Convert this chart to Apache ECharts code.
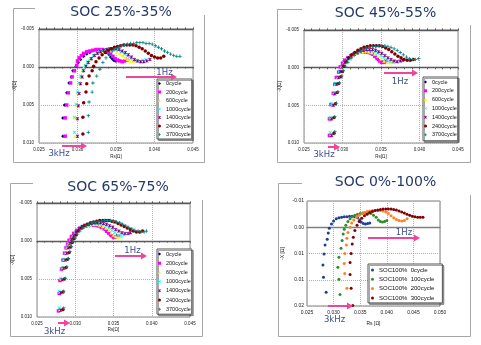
<!DOCTYPE html>
<html><head><meta charset="utf-8">
<script src="https://cdn.jsdelivr.net/npm/echarts@6/dist/echarts.min.js"></script>
<style>html,body{margin:0;padding:0;background:#fff}#c{width:481px;height:345px}</style>
</head><body><div id="c"></div>
<script>
// ---------- labels ----------
const titles = ["SOC 25%-35%", "SOC 45%-55%", "SOC 65%-75%", "SOC 0%-100%"];
const names7 = ["0cycle", "200cycle", "600cycle", "1000cycle", "1400cycle", "2400cycle", "3700cycle"];
const names4 = ["SOC100%  0cycle", "SOC100%  100cycle", "SOC100%  200cycle", "SOC100%  300cycle"];
const xTicksA = ["0.025", "0.030", "0.035", "0.040", "0.045"];
const yTicksA = ["-0.005", "0.000", "0.005", "0.010"];
const xTicksD = ["0.025", "0.030", "0.035", "0.040", "0.045", "0.050"];
const yTicksD = ["-0.01", "0.00", "0.01", "0.01", "0.02"];
const freqLabels = ["1Hz", "3kHz"];

// ---------- SOC 25%-35% ----------
const p1_c0 = [[0.0281,0.0091],[0.0281,0.0067],[0.0283,0.0050],[0.0286,0.0034],[0.0289,0.0021],[0.0292,0.0013],[0.0294,0.0005],[0.0298,-0.0001],[0.0301,-0.0006],[0.0304,-0.0010],[0.0308,-0.0014],[0.0312,-0.0017],[0.0316,-0.0019],[0.0320,-0.0021],[0.0324,-0.0022],[0.0328,-0.0022],[0.0332,-0.0022],[0.0335,-0.0021],[0.0338,-0.0019],[0.0341,-0.0016],[0.0343,-0.0013],[0.0345,-0.0011],[0.0347,-0.0009],[0.0349,-0.0008],[0.0351,-0.0008],[0.0353,-0.0009]];
const p1_c200 = [[0.0284,0.0091],[0.0284,0.0067],[0.0286,0.0050],[0.0288,0.0034],[0.0291,0.0021],[0.0293,0.0013],[0.0296,0.0005],[0.0299,-0.0002],[0.0300,-0.0008],[0.0302,-0.0012],[0.0305,-0.0015],[0.0308,-0.0018],[0.0312,-0.0020],[0.0316,-0.0021],[0.0320,-0.0022],[0.0324,-0.0023],[0.0328,-0.0023],[0.0332,-0.0023],[0.0336,-0.0022],[0.0340,-0.0020],[0.0343,-0.0017],[0.0346,-0.0014],[0.0349,-0.0011],[0.0352,-0.0009],[0.0355,-0.0008],[0.0358,-0.0007],[0.0361,-0.0008],[0.0364,-0.0009]];
const p1_c600 = [[0.0297,0.0091],[0.0297,0.0067],[0.0299,0.0050],[0.0300,0.0034],[0.0302,0.0021],[0.0304,0.0013],[0.0306,0.0005],[0.0309,-0.0001],[0.0312,-0.0006],[0.0315,-0.0010],[0.0319,-0.0014],[0.0323,-0.0017],[0.0327,-0.0019],[0.0331,-0.0021],[0.0335,-0.0022],[0.0339,-0.0023],[0.0343,-0.0023],[0.0347,-0.0022],[0.0351,-0.0020],[0.0355,-0.0018],[0.0359,-0.0015],[0.0362,-0.0012],[0.0365,-0.0010],[0.0368,-0.0008],[0.0372,-0.0008],[0.0375,-0.0009],[0.0378,-0.0010]];
const p1_c1000 = [[0.0296,0.0086],[0.0296,0.0066],[0.0298,0.0049],[0.0300,0.0033],[0.0302,0.0021],[0.0304,0.0012],[0.0307,0.0004],[0.0310,-0.0002],[0.0313,-0.0007],[0.0317,-0.0011],[0.0321,-0.0015],[0.0325,-0.0018],[0.0329,-0.0020],[0.0333,-0.0022],[0.0337,-0.0023],[0.0341,-0.0024],[0.0345,-0.0024],[0.0349,-0.0023],[0.0353,-0.0022],[0.0357,-0.0020],[0.0361,-0.0017],[0.0365,-0.0014],[0.0369,-0.0011],[0.0373,-0.0009],[0.0377,-0.0008],[0.0381,-0.0008],[0.0385,-0.0009],[0.0389,-0.0010]];
const p1_c1400 = [[0.0300,0.0091],[0.0300,0.0068],[0.0301,0.0051],[0.0302,0.0035],[0.0304,0.0022],[0.0306,0.0013],[0.0308,0.0005],[0.0311,-0.0001],[0.0314,-0.0006],[0.0318,-0.0011],[0.0322,-0.0015],[0.0326,-0.0018],[0.0330,-0.0020],[0.0334,-0.0022],[0.0338,-0.0023],[0.0342,-0.0024],[0.0346,-0.0024],[0.0350,-0.0024],[0.0354,-0.0023],[0.0358,-0.0021],[0.0362,-0.0019],[0.0366,-0.0016],[0.0370,-0.0013],[0.0374,-0.0010],[0.0378,-0.0008],[0.0382,-0.0007],[0.0386,-0.0007],[0.0390,-0.0008],[0.0394,-0.0010]];
const p1_c2400 = [[0.0307,0.0088],[0.0307,0.0066],[0.0308,0.0047],[0.0311,0.0033],[0.0312,0.0022],[0.0315,0.0012],[0.0319,0.0005],[0.0321,-0.0001],[0.0324,-0.0007],[0.0328,-0.0012],[0.0332,-0.0016],[0.0336,-0.0019],[0.0340,-0.0022],[0.0344,-0.0024],[0.0348,-0.0026],[0.0352,-0.0027],[0.0356,-0.0028],[0.0360,-0.0029],[0.0364,-0.0029],[0.0368,-0.0029],[0.0372,-0.0029],[0.0376,-0.0028],[0.0380,-0.0026],[0.0384,-0.0024],[0.0388,-0.0021],[0.0392,-0.0018],[0.0396,-0.0015],[0.0400,-0.0013],[0.0404,-0.0012],[0.0408,-0.0012],[0.0412,-0.0014]];
const p1_c3700 = [[0.0314,0.0086],[0.0314,0.0064],[0.0315,0.0046],[0.0319,0.0033],[0.0320,0.0021],[0.0325,0.0012],[0.0329,0.0003],[0.0333,-0.0006],[0.0337,-0.0012],[0.0341,-0.0017],[0.0345,-0.0021],[0.0349,-0.0024],[0.0353,-0.0026],[0.0357,-0.0028],[0.0361,-0.0029],[0.0365,-0.0030],[0.0369,-0.0031],[0.0373,-0.0031],[0.0377,-0.0032],[0.0381,-0.0032],[0.0385,-0.0032],[0.0389,-0.0031],[0.0393,-0.0031],[0.0397,-0.0030],[0.0401,-0.0028],[0.0405,-0.0026],[0.0409,-0.0024],[0.0413,-0.0021],[0.0417,-0.0019],[0.0421,-0.0017],[0.0425,-0.0015],[0.0429,-0.0014],[0.0433,-0.0014]];

// ---------- SOC 45%-55% ----------
const p2_c0 = [[0.0284,0.0089],[0.0284,0.0067],[0.0286,0.0049],[0.0289,0.0034],[0.0290,0.0022],[0.0293,0.0013],[0.0295,0.0006],[0.0298,-0.0001],[0.0301,-0.0006],[0.0304,-0.0010],[0.0308,-0.0013],[0.0312,-0.0016],[0.0316,-0.0018],[0.0320,-0.0019],[0.0324,-0.0020],[0.0328,-0.0021],[0.0332,-0.0020],[0.0336,-0.0019],[0.0340,-0.0017],[0.0343,-0.0014],[0.0346,-0.0011],[0.0349,-0.0009],[0.0352,-0.0008],[0.0355,-0.0009]];
const p2_c200 = [[0.0283,0.0090],[0.0283,0.0068],[0.0285,0.0049],[0.0288,0.0034],[0.0290,0.0022],[0.0292,0.0013],[0.0295,0.0006],[0.0297,-0.0001],[0.0300,-0.0006],[0.0303,-0.0010],[0.0307,-0.0013],[0.0311,-0.0016],[0.0315,-0.0018],[0.0319,-0.0020],[0.0323,-0.0021],[0.0327,-0.0021],[0.0331,-0.0021],[0.0335,-0.0020],[0.0339,-0.0018],[0.0342,-0.0015],[0.0345,-0.0012],[0.0348,-0.0009],[0.0351,-0.0007],[0.0354,-0.0007],[0.0357,-0.0008]];
const p2_c600 = [[0.0285,0.0088],[0.0285,0.0066],[0.0287,0.0048],[0.0289,0.0033],[0.0291,0.0022],[0.0294,0.0013],[0.0296,0.0005],[0.0299,-0.0002],[0.0302,-0.0007],[0.0306,-0.0011],[0.0310,-0.0014],[0.0314,-0.0017],[0.0318,-0.0019],[0.0322,-0.0020],[0.0326,-0.0021],[0.0330,-0.0022],[0.0334,-0.0021],[0.0338,-0.0020],[0.0342,-0.0018],[0.0346,-0.0015],[0.0350,-0.0012],[0.0354,-0.0009],[0.0358,-0.0007],[0.0362,-0.0007],[0.0365,-0.0008]];
const p2_c1000 = [[0.0284,0.0086],[0.0284,0.0066],[0.0286,0.0048],[0.0289,0.0033],[0.0291,0.0021],[0.0294,0.0012],[0.0296,0.0005],[0.0299,-0.0002],[0.0302,-0.0007],[0.0306,-0.0011],[0.0310,-0.0015],[0.0314,-0.0018],[0.0318,-0.0020],[0.0322,-0.0021],[0.0326,-0.0022],[0.0330,-0.0023],[0.0334,-0.0023],[0.0338,-0.0022],[0.0342,-0.0021],[0.0346,-0.0019],[0.0350,-0.0016],[0.0354,-0.0013],[0.0358,-0.0010],[0.0362,-0.0008],[0.0366,-0.0007],[0.0370,-0.0008]];
const p2_c1400 = [[0.0286,0.0090],[0.0286,0.0068],[0.0288,0.0050],[0.0290,0.0035],[0.0292,0.0022],[0.0295,0.0013],[0.0297,0.0005],[0.0300,-0.0002],[0.0303,-0.0007],[0.0307,-0.0012],[0.0311,-0.0015],[0.0315,-0.0018],[0.0319,-0.0020],[0.0323,-0.0022],[0.0327,-0.0023],[0.0331,-0.0024],[0.0335,-0.0024],[0.0339,-0.0024],[0.0343,-0.0023],[0.0347,-0.0021],[0.0351,-0.0019],[0.0355,-0.0016],[0.0359,-0.0013],[0.0363,-0.0011],[0.0367,-0.0009],[0.0371,-0.0008],[0.0375,-0.0009],[0.0378,-0.0010]];
const p2_c2400 = [[0.0289,0.0087],[0.0289,0.0066],[0.0291,0.0048],[0.0293,0.0033],[0.0295,0.0021],[0.0298,0.0012],[0.0300,0.0005],[0.0302,-0.0002],[0.0305,-0.0008],[0.0308,-0.0013],[0.0312,-0.0017],[0.0316,-0.0020],[0.0320,-0.0023],[0.0324,-0.0025],[0.0328,-0.0027],[0.0332,-0.0028],[0.0336,-0.0029],[0.0340,-0.0029],[0.0344,-0.0029],[0.0348,-0.0029],[0.0352,-0.0028],[0.0356,-0.0026],[0.0360,-0.0024],[0.0364,-0.0021],[0.0368,-0.0018],[0.0372,-0.0015],[0.0376,-0.0013],[0.0380,-0.0011],[0.0384,-0.0010],[0.0388,-0.0010],[0.0392,-0.0011]];
const p2_c3700 = [[0.0290,0.0085],[0.0290,0.0065],[0.0292,0.0047],[0.0294,0.0032],[0.0296,0.0020],[0.0299,0.0011],[0.0301,0.0004],[0.0304,-0.0002],[0.0307,-0.0007],[0.0311,-0.0012],[0.0315,-0.0016],[0.0319,-0.0019],[0.0323,-0.0022],[0.0327,-0.0024],[0.0331,-0.0026],[0.0335,-0.0027],[0.0339,-0.0028],[0.0343,-0.0028],[0.0347,-0.0029],[0.0351,-0.0029],[0.0355,-0.0029],[0.0359,-0.0028],[0.0363,-0.0027],[0.0367,-0.0025],[0.0371,-0.0023],[0.0375,-0.0020],[0.0379,-0.0017],[0.0383,-0.0014],[0.0387,-0.0012],[0.0391,-0.0011],[0.0395,-0.0011],[0.0399,-0.0012]];

// ---------- SOC 65%-75% ----------
const p3_c0 = [[0.0279,0.0091],[0.0280,0.0068],[0.0281,0.0051],[0.0283,0.0036],[0.0285,0.0025],[0.0287,0.0016],[0.0289,0.0009],[0.0291,0.0004],[0.0293,-0.0001],[0.0296,-0.0006],[0.0299,-0.0010],[0.0303,-0.0013],[0.0307,-0.0016],[0.0311,-0.0018],[0.0315,-0.0019],[0.0319,-0.0020],[0.0323,-0.0021],[0.0327,-0.0021],[0.0331,-0.0020],[0.0335,-0.0018],[0.0339,-0.0015],[0.0342,-0.0012],[0.0345,-0.0009],[0.0348,-0.0007],[0.0351,-0.0006],[0.0354,-0.0007]];
const p3_c200 = [[0.0278,0.0092],[0.0279,0.0069],[0.0280,0.0052],[0.0282,0.0037],[0.0284,0.0025],[0.0286,0.0016],[0.0288,0.0009],[0.0290,0.0004],[0.0292,-0.0001],[0.0295,-0.0006],[0.0298,-0.0010],[0.0302,-0.0014],[0.0306,-0.0017],[0.0310,-0.0019],[0.0314,-0.0020],[0.0318,-0.0021],[0.0322,-0.0021],[0.0326,-0.0021],[0.0330,-0.0020],[0.0334,-0.0018],[0.0338,-0.0016],[0.0341,-0.0013],[0.0344,-0.0010],[0.0347,-0.0007],[0.0350,-0.0005],[0.0353,-0.0005],[0.0356,-0.0006]];
const p3_c600 = [[0.0280,0.0090],[0.0280,0.0067],[0.0282,0.0050],[0.0284,0.0035],[0.0286,0.0024],[0.0288,0.0015],[0.0290,0.0008],[0.0292,0.0003],[0.0294,-0.0002],[0.0297,-0.0007],[0.0300,-0.0011],[0.0304,-0.0014],[0.0308,-0.0017],[0.0312,-0.0019],[0.0316,-0.0020],[0.0320,-0.0021],[0.0324,-0.0022],[0.0328,-0.0022],[0.0332,-0.0021],[0.0336,-0.0019],[0.0340,-0.0017],[0.0344,-0.0014],[0.0347,-0.0011],[0.0350,-0.0008],[0.0353,-0.0006],[0.0356,-0.0005],[0.0359,-0.0006]];
const p3_c1000 = [[0.0279,0.0088],[0.0279,0.0066],[0.0281,0.0049],[0.0283,0.0035],[0.0285,0.0024],[0.0287,0.0015],[0.0289,0.0008],[0.0291,0.0003],[0.0294,-0.0002],[0.0297,-0.0007],[0.0300,-0.0011],[0.0304,-0.0015],[0.0308,-0.0018],[0.0312,-0.0020],[0.0316,-0.0021],[0.0320,-0.0022],[0.0324,-0.0023],[0.0328,-0.0023],[0.0332,-0.0023],[0.0336,-0.0022],[0.0340,-0.0020],[0.0344,-0.0017],[0.0348,-0.0014],[0.0352,-0.0011],[0.0356,-0.0008],[0.0360,-0.0007],[0.0364,-0.0008]];
const p3_c1400 = [[0.0281,0.0091],[0.0281,0.0068],[0.0283,0.0051],[0.0285,0.0036],[0.0287,0.0025],[0.0289,0.0016],[0.0291,0.0009],[0.0293,0.0003],[0.0295,-0.0002],[0.0298,-0.0007],[0.0301,-0.0012],[0.0305,-0.0016],[0.0309,-0.0019],[0.0313,-0.0021],[0.0317,-0.0022],[0.0321,-0.0023],[0.0325,-0.0024],[0.0329,-0.0024],[0.0333,-0.0024],[0.0337,-0.0023],[0.0341,-0.0022],[0.0345,-0.0020],[0.0349,-0.0018],[0.0353,-0.0015],[0.0357,-0.0013],[0.0361,-0.0011],[0.0365,-0.0010],[0.0369,-0.0010],[0.0372,-0.0011]];
const p3_c2400 = [[0.0284,0.0090],[0.0284,0.0067],[0.0286,0.0050],[0.0288,0.0035],[0.0290,0.0024],[0.0292,0.0015],[0.0294,0.0008],[0.0296,0.0002],[0.0298,-0.0003],[0.0301,-0.0008],[0.0304,-0.0013],[0.0308,-0.0017],[0.0312,-0.0020],[0.0316,-0.0022],[0.0320,-0.0024],[0.0324,-0.0025],[0.0328,-0.0026],[0.0332,-0.0027],[0.0336,-0.0027],[0.0340,-0.0027],[0.0344,-0.0027],[0.0348,-0.0026],[0.0352,-0.0025],[0.0356,-0.0023],[0.0360,-0.0021],[0.0364,-0.0019],[0.0368,-0.0017],[0.0372,-0.0015],[0.0376,-0.0013],[0.0380,-0.0012],[0.0384,-0.0012],[0.0388,-0.0013]];
const p3_c3700 = [[0.0285,0.0088],[0.0285,0.0066],[0.0287,0.0049],[0.0289,0.0034],[0.0291,0.0023],[0.0293,0.0014],[0.0295,0.0007],[0.0297,0.0001],[0.0300,-0.0004],[0.0303,-0.0009],[0.0306,-0.0013],[0.0310,-0.0017],[0.0314,-0.0020],[0.0318,-0.0022],[0.0322,-0.0024],[0.0326,-0.0025],[0.0330,-0.0026],[0.0334,-0.0026],[0.0338,-0.0027],[0.0342,-0.0027],[0.0346,-0.0027],[0.0350,-0.0026],[0.0354,-0.0025],[0.0358,-0.0024],[0.0362,-0.0022],[0.0366,-0.0020],[0.0370,-0.0018],[0.0374,-0.0016],[0.0378,-0.0014],[0.0382,-0.0013],[0.0386,-0.0012],[0.0390,-0.0012],[0.0393,-0.0013]];

// ---------- SOC 0%-100% ----------
const p4_c0 = [[0.0286,0.0124],[0.0281,0.0095],[0.0280,0.0072],[0.0282,0.0051],[0.0284,0.0034],[0.0288,0.0023],[0.0290,0.0011],[0.0292,0.0002],[0.0296,-0.0006],[0.0300,-0.0012],[0.0305,-0.0016],[0.0310,-0.0018],[0.0315,-0.0019],[0.0320,-0.0020],[0.0325,-0.0020],[0.0330,-0.0021],[0.0335,-0.0021],[0.0340,-0.0020],[0.0345,-0.0018],[0.0349,-0.0014],[0.0352,-0.0010],[0.0356,-0.0007],[0.0360,-0.0006],[0.0364,-0.0007],[0.0368,-0.0008]];
const p4_c100 = [[0.0312,0.0128],[0.0310,0.0099],[0.0308,0.0076],[0.0310,0.0057],[0.0314,0.0040],[0.0316,0.0025],[0.0318,0.0013],[0.0320,0.0004],[0.0323,-0.0004],[0.0327,-0.0011],[0.0331,-0.0016],[0.0335,-0.0020],[0.0340,-0.0023],[0.0345,-0.0025],[0.0350,-0.0026],[0.0355,-0.0027],[0.0360,-0.0027],[0.0365,-0.0027],[0.0370,-0.0026],[0.0375,-0.0023],[0.0380,-0.0019],[0.0384,-0.0014],[0.0388,-0.0011],[0.0392,-0.0010],[0.0396,-0.0011],[0.0400,-0.0013]];
const p4_c200 = [[0.0326,0.0150],[0.0325,0.0116],[0.0321,0.0088],[0.0320,0.0069],[0.0321,0.0050],[0.0324,0.0034],[0.0325,0.0021],[0.0327,0.0010],[0.0331,0.0000],[0.0334,-0.0008],[0.0338,-0.0014],[0.0343,-0.0019],[0.0348,-0.0023],[0.0353,-0.0026],[0.0358,-0.0028],[0.0363,-0.0030],[0.0368,-0.0031],[0.0373,-0.0032],[0.0378,-0.0032],[0.0383,-0.0032],[0.0388,-0.0032],[0.0393,-0.0031],[0.0398,-0.0029],[0.0403,-0.0026],[0.0408,-0.0022],[0.0413,-0.0018],[0.0418,-0.0015],[0.0423,-0.0013],[0.0428,-0.0012],[0.0433,-0.0013],[0.0438,-0.0016]];
const p4_c300 = [[0.0336,0.0149],[0.0333,0.0116],[0.0331,0.0090],[0.0331,0.0067],[0.0333,0.0050],[0.0335,0.0032],[0.0337,0.0019],[0.0340,0.0006],[0.0344,-0.0004],[0.0348,-0.0011],[0.0353,-0.0017],[0.0358,-0.0022],[0.0363,-0.0025],[0.0368,-0.0028],[0.0373,-0.0030],[0.0378,-0.0032],[0.0383,-0.0033],[0.0388,-0.0034],[0.0393,-0.0035],[0.0398,-0.0035],[0.0403,-0.0035],[0.0408,-0.0035],[0.0413,-0.0034],[0.0418,-0.0033],[0.0423,-0.0031],[0.0428,-0.0029],[0.0433,-0.0027],[0.0438,-0.0025],[0.0443,-0.0023],[0.0448,-0.0021],[0.0453,-0.0020],[0.0458,-0.0019],[0.0463,-0.0019],[0.0468,-0.0019]];

// ---------- styling ----------
const X_SYM = 'path://M0,1.5L1.5,0L5,3.5L8.5,0L10,1.5L6.5,5L10,8.5L8.5,10L5,6.5L1.5,10L0,8.5L3.5,5Z';
const STAR_SYM = 'path://M0,1.5L1.5,0L5,3.5L8.5,0L10,1.5L6.5,5L10,8.5L8.5,10L5,6.5L1.5,10L0,8.5L3.5,5Z M4.2,0L5.8,0L5.8,10L4.2,10Z';
const PLUS_SYM = 'path://M3.8,0L6.2,0L6.2,3.8L10,3.8L10,6.2L6.2,6.2L6.2,10L3.8,10L3.8,6.2L0,6.2L0,3.8L3.8,3.8Z';
const SYM7 = ['diamond', 'rect', 'triangle', X_SYM, STAR_SYM, 'circle', PLUS_SYM];
const COL7 = ['#000080', '#ff00ff', '#ffff00', '#00ffff', '#800080', '#800000', '#008080'];
const SYM4 = ['circle', 'circle', 'circle', 'circle'];
const COL4 = ['#1f3d99', '#2e8b2e', '#ff7f27', '#800000'];
const PINK = '#f0459a';
const HZ_BLUE = '#3d4f8c';
const TITLE_BLUE = '#24396b';

const panels = [
  { g:[39,29,154,114], x:[0.025,0.045], y:[-0.005,0.010], xt:xTicksA, yt:yTicksA, names:names7, data:[p1_c0,p1_c200,p1_c600,p1_c1000,p1_c1400,p1_c2400,p1_c3700], syms:SYM7, cols:COL7, ss:3.5,
    fs:4.5, xlm:4.5, ylm:5, xName:'Rs[Ω]', yName:'-X[Ω]', xng:11, yng:21, zero:'#595959', ticks:true, border:'#8c8c8c',
    lg:[157,79], lgGap:2.5, lgPad:[1.5,1,1.5,1], lfs:5.5, lh:6,
    frame:[[35,8.5],[13.5,8.5],[13.5,162.5],[204.5,162.5],[204.5,15]], title:[121,12],
    a1:[126,177,77], t1:[164.5,72.5], a3:[62,87,146], t3:[59,153.5] },
  { g:[304,30,154,113], x:[0.025,0.045], y:[-0.005,0.010], xt:xTicksA, yt:yTicksA, names:names7, data:[p2_c0,p2_c200,p2_c600,p2_c1000,p2_c1400,p2_c2400,p2_c3700], syms:SYM7, cols:COL7, ss:3.5,
    fs:4.5, xlm:4.5, ylm:5, xName:'Rs[Ω]', yName:'-X[Ω]', xng:11, yng:9, zero:'#595959', ticks:true, border:'#8c8c8c',
    lg:[423,77], lgGap:2.8, lgPad:[2,1,3,1], lfs:5.5, lh:6,
    frame:[[302,9.5],[277.5,9.5],[277.5,162.5],[470.5,162.5],[470.5,25]], title:[385.5,13],
    a1:[384,418,73], t1:[400,81.5], a3:[328,340,147], t3:[324,155] },
  { g:[37,203,153,114], x:[0.025,0.045], y:[-0.005,0.010], xt:xTicksA, yt:yTicksA, names:names7, data:[p3_c0,p3_c200,p3_c600,p3_c1000,p3_c1400,p3_c2400,p3_c3700], syms:SYM7, cols:COL7, ss:3.5,
    fs:4.5, xlm:4.5, ylm:5, xName:'Rs[Ω]', yName:'-X[Ω]', xng:4.5, yng:17.5, zero:'#595959', ticks:true, border:'#8c8c8c',
    lg:[157,249], lgGap:3.2, lgPad:[2,1,2,1], lfs:5.5, lh:6,
    frame:[[33,183.5],[10.5,183.5],[10.5,336.5],[202.5,336.5],[202.5,200]], title:[118,187],
    a1:[115,147,256], t1:[132.5,250.5], a3:[58,70,323], t3:[54.5,332] },
  { g:[307,201,133,105], x:[0.025,0.050], y:[-0.005,0.015], xt:xTicksD, yt:yTicksD, names:names4, data:[p4_c0,p4_c100,p4_c200,p4_c300], syms:SYM4, cols:COL4, ss:3,
    fs:5, xlm:4.5, ylm:3, xName:'Rs [Ω]', yName:'-X [Ω]', xng:15, yng:21.5, zero:'#7f7f7f', ticks:false, border:'#7f7f7f',
    lg:[368,264], lgGap:2.3, lgPad:[2.5,8,1.5,3], lfs:6, lh:7,
    frame:[[302,183.5],[278.5,183.5],[278.5,336.5],[470.5,336.5],[470.5,195]], title:[385.5,182.5],
    a1:[368,420,238], t1:[404,232.5], a3:[328,353,306], t3:[334.5,320] }
];

const grids = [], xAxes = [], yAxes = [], series = [], legends = [], graphics = [];
const fmt = (ticks, min, step) => v => { const s = ticks[Math.round((v - min) / step)]; return s === undefined ? '' : s; };
const FONT = 'Liberation Sans';

function arrow(x1, x2, y) {
  return [
    { type:'line', z:100, silent:true, shape:{ x1:x1, y1:y, x2:x2 - 4, y2:y }, style:{ stroke:PINK, lineWidth:2 } },
    { type:'polygon', z:100, silent:true, shape:{ points:[[x2 - 6, y - 3.5], [x2, y], [x2 - 6, y + 3.5]] }, style:{ fill:PINK } }
  ];
}

panels.forEach((p, k) => {
  grids.push({ left:p.g[0], top:p.g[1], width:p.g[2], height:p.g[3], show:true, borderColor:p.border, borderWidth:1, backgroundColor:'#fff', containLabel:false, outerBoundsMode:'none' });
  const xi = xAxes.length;
  xAxes.push({ gridIndex:k, type:'value', min:p.x[0], max:p.x[1], interval:0.005, position:'bottom',
    axisLine:{ show:false, onZero:false }, axisTick:{ show:false },
    axisLabel:{ fontSize:p.fs, margin:p.xlm, color:'#222', fontFamily:FONT, formatter:fmt(p.xt, p.x[0], 0.005) },
    splitLine:{ show:true, lineStyle:{ type:'dotted', color:'#b0b0b0', width:1 } },
    name:p.xName, nameLocation:'middle', nameGap:p.xng, nameTextStyle:{ fontSize:p.fs, color:'#222', fontFamily:FONT } });
  xAxes.push({ gridIndex:k, type:'value', min:p.x[0], max:p.x[1], interval:0.001, position:'bottom',
    axisLine:{ show:true, onZero:true, lineStyle:{ color:p.zero, width:1.3 } },
    axisTick:{ show:p.ticks, length:1.6, lineStyle:{ color:p.zero, width:1 } },
    axisLabel:{ show:false }, splitLine:{ show:false } });
  if (p.ticks) {
    xAxes.push({ gridIndex:k, type:'value', min:p.x[0], max:p.x[1], interval:0.001, position:'top',
      axisLine:{ show:true, onZero:true, lineStyle:{ color:p.zero, width:1.3 } },
      axisTick:{ show:true, length:1.6, lineStyle:{ color:p.zero, width:1 } },
      axisLabel:{ show:false }, splitLine:{ show:false } });
  }
  yAxes.push({ gridIndex:k, type:'value', inverse:true, min:p.y[0], max:p.y[1], interval:0.005, position:'left',
    axisLine:{ show:false, onZero:false }, axisTick:{ show:false },
    axisLabel:{ fontSize:p.fs, margin:p.ylm, color:'#222', fontFamily:FONT, formatter:fmt(p.yt, p.y[0], 0.005) },
    splitLine:{ show:true, lineStyle:{ type:'dotted', color:'#b0b0b0', width:1 } },
    name:p.yName, nameLocation:'middle', nameGap:p.yng, nameRotate:90, nameTextStyle:{ fontSize:p.fs, color:'#222', fontFamily:FONT } });
  p.data.forEach((d, j) => {
    series.push({ type:'scatter', name:p.names[j], xAxisIndex:xi, yAxisIndex:k, data:d,
      symbol:p.syms[j], symbolSize:p.ss, itemStyle:{ color:p.cols[j], opacity:1 }, silent:true, animation:false });
  });
  legends.push({ left:p.lg[0], top:p.lg[1], orient:'vertical', data:p.names, itemWidth:3, itemHeight:3,
    itemGap:p.lgGap, padding:p.lgPad, borderColor:'#555', borderWidth:1, backgroundColor:'#fff',
    shadowColor:'rgba(0,0,0,0.35)', shadowOffsetX:1.5, shadowOffsetY:1.5, shadowBlur:0,
    selectedMode:false, textStyle:{ fontSize:p.lfs, lineHeight:p.lh, fontFamily:FONT, color:'#111' } });
  graphics.push({ type:'polyline', silent:true, shape:{ points:p.frame }, style:{ stroke:'#a6a6a6', lineWidth:1, fill:null } });
  graphics.push({ type:'text', silent:true, x:p.title[0], y:p.title[1], style:{ text:titles[k], fill:TITLE_BLUE, fontSize:14, fontFamily:'DejaVu Sans', align:'center', verticalAlign:'middle' } });
  graphics.push(...arrow(p.a1[0], p.a1[1], p.a1[2]));
  graphics.push(...arrow(p.a3[0], p.a3[1], p.a3[2]));
  graphics.push({ type:'text', silent:true, z:101, x:p.t1[0], y:p.t1[1], style:{ text:freqLabels[0], fill:HZ_BLUE, fontSize:8.5, fontFamily:'DejaVu Sans', align:'center', verticalAlign:'middle' } });
  graphics.push({ type:'text', silent:true, z:101, x:p.t3[0], y:p.t3[1], style:{ text:freqLabels[1], fill:HZ_BLUE, fontSize:8.5, fontFamily:'DejaVu Sans', align:'center', verticalAlign:'middle' } });
});

const chart = echarts.init(document.getElementById('c'), null, { renderer:'canvas', width:481, height:345 });
chart.setOption({
  animation:false, backgroundColor:'#fff',
  grid:grids, xAxis:xAxes, yAxis:yAxes, series:series, legend:legends, graphic:{ elements:graphics }
});
</script>
</body></html>
